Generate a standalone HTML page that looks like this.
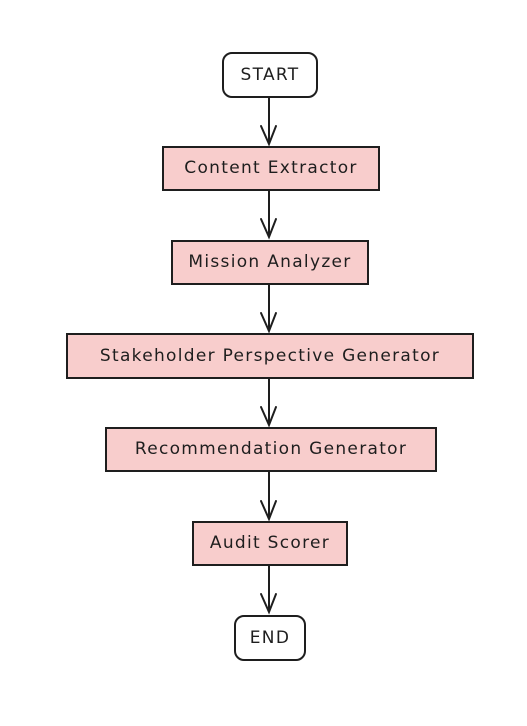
<!DOCTYPE html>
<html><head><meta charset="utf-8"><style>
html,body{margin:0;padding:0;background:#fff;width:527px;height:726px;overflow:hidden}
text{font-family:"DejaVu Sans","Liberation Sans",sans-serif;font-size:17px;letter-spacing:1.3px;fill:#1e1e1e;text-anchor:middle;dominant-baseline:central}
</style></head><body>
<svg width="527" height="726" viewBox="0 0 527 726" xmlns="http://www.w3.org/2000/svg">
<g stroke="#1e1e1e" stroke-width="2" fill="none" stroke-linecap="round">
<rect x="223" y="53" width="94" height="44" rx="9" fill="#fff"/>
<rect x="163" y="147" width="216" height="43" fill="#f8cdcc"/>
<rect x="172" y="241" width="196" height="43" fill="#f8cdcc"/>
<rect x="67" y="334" width="406" height="44" fill="#f8cdcc"/>
<rect x="106" y="428" width="330" height="43" fill="#f8cdcc"/>
<rect x="193" y="522" width="154" height="43" fill="#f8cdcc"/>
<rect x="235" y="616" width="70" height="44" rx="9" fill="#fff"/>
<path d="M269 98 V144 M261 126 L269 144 L276 126"/>
<path d="M269 191 V237 M261 219 L269 237 L276 219"/>
<path d="M269 285 V331 M261 313 L269 331 L276 313"/>
<path d="M269 379 V425 M261 407 L269 425 L276 407"/>
<path d="M269 472 V519 M261 501 L269 519 L276 501"/>
<path d="M269 566 V612 M261 594 L269 612 L276 594"/>
</g>
<text x="270" y="75">START</text>
<text x="271" y="168">Content Extractor</text>
<text x="270" y="262">Mission Analyzer</text>
<text x="270" y="356">Stakeholder Perspective Generator</text>
<text x="271" y="449">Recommendation Generator</text>
<text x="270" y="543">Audit Scorer</text>
<text x="270" y="638">END</text>
</svg>
</body></html>
